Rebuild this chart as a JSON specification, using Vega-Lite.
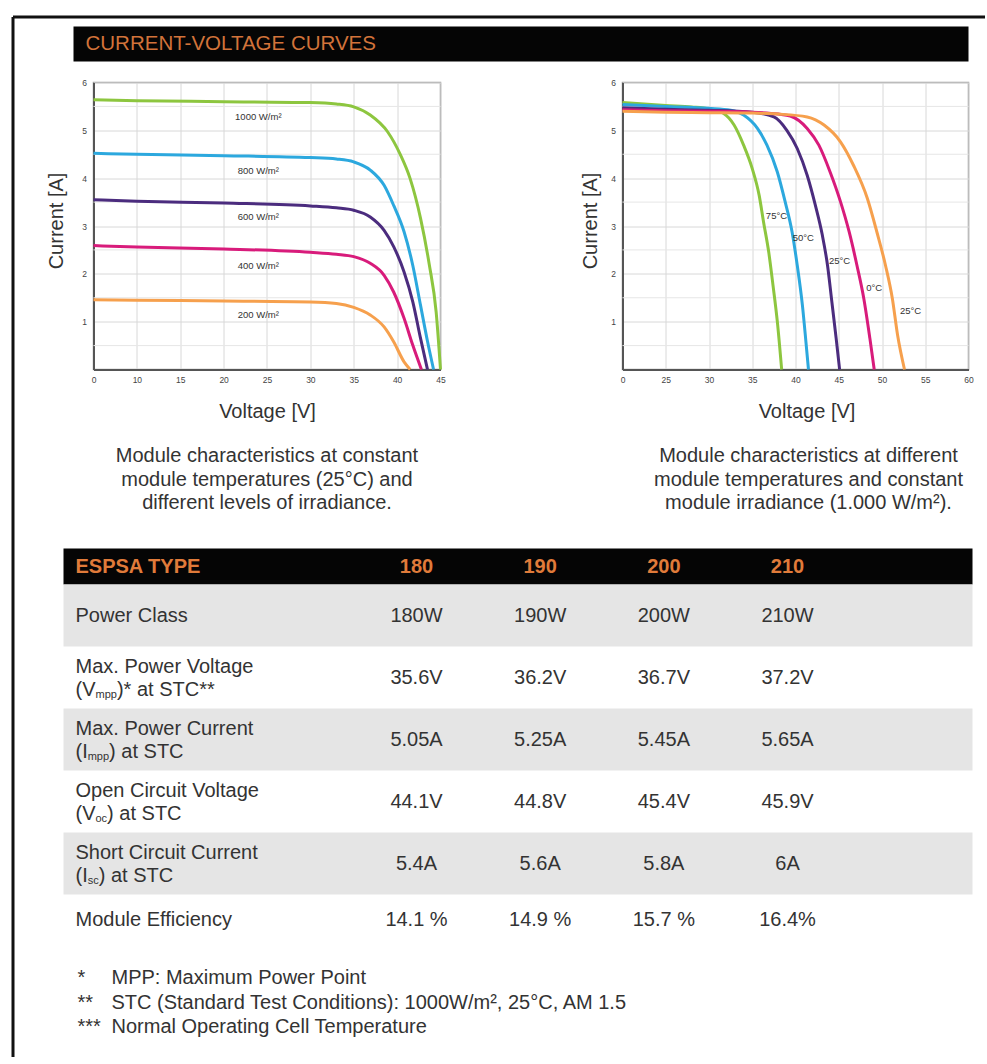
{
  "$schema": "https://vega.github.io/schema/vega-lite/v6.json",
  "background": "white",
  "padding": {"left": 12.5, "top": 16.5, "right": 0, "bottom": 0},
  "autosize": {"type": "pad"},
  "config": {
    "font": "Liberation Sans",
    "view": {"stroke": null},
    "concat": {"spacing": 0}
  },
  "datasets": {
    "irr": [
      {"curve": "1000", "v": 0, "i": 5.64}, {"curve": "1000", "v": 10, "i": 5.62}, {"curve": "1000", "v": 20, "i": 5.6}, {"curve": "1000", "v": 30, "i": 5.58}, {"curve": "1000", "v": 33, "i": 5.55}, {"curve": "1000", "v": 35, "i": 5.49}, {"curve": "1000", "v": 36.9, "i": 5.32}, {"curve": "1000", "v": 38.9, "i": 4.97}, {"curve": "1000", "v": 40.4, "i": 4.48}, {"curve": "1000", "v": 41.5, "i": 3.99}, {"curve": "1000", "v": 42.7, "i": 3.16}, {"curve": "1000", "v": 43.7, "i": 2.2}, {"curve": "1000", "v": 44.5, "i": 1.2}, {"curve": "1000", "v": 45, "i": 0},
      {"curve": "800", "v": 0, "i": 4.52}, {"curve": "800", "v": 10, "i": 4.5}, {"curve": "800", "v": 20, "i": 4.47}, {"curve": "800", "v": 30, "i": 4.43}, {"curve": "800", "v": 33, "i": 4.4}, {"curve": "800", "v": 35, "i": 4.34}, {"curve": "800", "v": 36.9, "i": 4.17}, {"curve": "800", "v": 38.5, "i": 3.85}, {"curve": "800", "v": 39.6, "i": 3.43}, {"curve": "800", "v": 40.8, "i": 2.88}, {"curve": "800", "v": 41.8, "i": 2.18}, {"curve": "800", "v": 42.7, "i": 1.34}, {"curve": "800", "v": 43.5, "i": 0.59}, {"curve": "800", "v": 44.2, "i": 0},
      {"curve": "600", "v": 0, "i": 3.55}, {"curve": "600", "v": 10, "i": 3.52}, {"curve": "600", "v": 20, "i": 3.48}, {"curve": "600", "v": 30, "i": 3.42}, {"curve": "600", "v": 33, "i": 3.38}, {"curve": "600", "v": 35, "i": 3.33}, {"curve": "600", "v": 36.9, "i": 3.19}, {"curve": "600", "v": 38.5, "i": 2.91}, {"curve": "600", "v": 39.6, "i": 2.57}, {"curve": "600", "v": 40.8, "i": 2.04}, {"curve": "600", "v": 41.8, "i": 1.42}, {"curve": "600", "v": 42.7, "i": 0.65}, {"curve": "600", "v": 43.5, "i": 0},
      {"curve": "400", "v": 0, "i": 2.59}, {"curve": "400", "v": 10, "i": 2.56}, {"curve": "400", "v": 20, "i": 2.52}, {"curve": "400", "v": 30, "i": 2.45}, {"curve": "400", "v": 33, "i": 2.41}, {"curve": "400", "v": 35, "i": 2.36}, {"curve": "400", "v": 36.9, "i": 2.22}, {"curve": "400", "v": 38.5, "i": 1.97}, {"curve": "400", "v": 39.6, "i": 1.62}, {"curve": "400", "v": 40.8, "i": 1.07}, {"curve": "400", "v": 41.8, "i": 0.51}, {"curve": "400", "v": 42.8, "i": 0},
      {"curve": "200", "v": 0, "i": 1.46}, {"curve": "200", "v": 10, "i": 1.45}, {"curve": "200", "v": 20, "i": 1.43}, {"curve": "200", "v": 30, "i": 1.41}, {"curve": "200", "v": 33, "i": 1.38}, {"curve": "200", "v": 35, "i": 1.3}, {"curve": "200", "v": 36.9, "i": 1.14}, {"curve": "200", "v": 38.5, "i": 0.89}, {"curve": "200", "v": 39.6, "i": 0.58}, {"curve": "200", "v": 40.8, "i": 0.16}, {"curve": "200", "v": 41.5, "i": 0}
    ],
    "irrLabels": [
      {"v": 24, "i": 5.27, "label": "1000 W/m²"},
      {"v": 24, "i": 4.16, "label": "800 W/m²"},
      {"v": 24, "i": 3.18, "label": "600 W/m²"},
      {"v": 24, "i": 2.17, "label": "400 W/m²"},
      {"v": 24, "i": 1.13, "label": "200 W/m²"}
    ],
    "temp": [
      {"curve": "75", "v": 0, "i": 5.58}, {"curve": "75", "v": 25, "i": 5.52}, {"curve": "75", "v": 28, "i": 5.49}, {"curve": "75", "v": 30, "i": 5.45}, {"curve": "75", "v": 31.7, "i": 5.35}, {"curve": "75", "v": 32.9, "i": 5.11}, {"curve": "75", "v": 34, "i": 4.69}, {"curve": "75", "v": 35, "i": 4.2}, {"curve": "75", "v": 35.8, "i": 3.64}, {"curve": "75", "v": 36.3, "i": 3.09}, {"curve": "75", "v": 36.9, "i": 2.46}, {"curve": "75", "v": 37.4, "i": 1.76}, {"curve": "75", "v": 37.9, "i": 1.0}, {"curve": "75", "v": 38.4, "i": 0},
      {"curve": "50", "v": 0, "i": 5.54}, {"curve": "50", "v": 25, "i": 5.5}, {"curve": "50", "v": 30, "i": 5.46}, {"curve": "50", "v": 32.5, "i": 5.42}, {"curve": "50", "v": 34, "i": 5.32}, {"curve": "50", "v": 35.6, "i": 5.04}, {"curve": "50", "v": 36.7, "i": 4.69}, {"curve": "50", "v": 37.9, "i": 4.13}, {"curve": "50", "v": 38.8, "i": 3.51}, {"curve": "50", "v": 39.6, "i": 2.88}, {"curve": "50", "v": 40.2, "i": 2.18}, {"curve": "50", "v": 40.8, "i": 1.34}, {"curve": "50", "v": 41.2, "i": 0.59}, {"curve": "50", "v": 41.5, "i": 0},
      {"curve": "25", "v": 0, "i": 5.47}, {"curve": "25", "v": 25, "i": 5.44}, {"curve": "25", "v": 30, "i": 5.42}, {"curve": "25", "v": 35, "i": 5.38}, {"curve": "25", "v": 37.5, "i": 5.28}, {"curve": "25", "v": 39, "i": 5.0}, {"curve": "25", "v": 40.2, "i": 4.62}, {"curve": "25", "v": 41.35, "i": 4.06}, {"curve": "25", "v": 42.3, "i": 3.43}, {"curve": "25", "v": 43.1, "i": 2.81}, {"curve": "25", "v": 43.7, "i": 2.18}, {"curve": "25", "v": 44.2, "i": 1.42}, {"curve": "25", "v": 44.7, "i": 0.65}, {"curve": "25", "v": 45.1, "i": 0},
      {"curve": "0", "v": 0, "i": 5.43}, {"curve": "0", "v": 25, "i": 5.41}, {"curve": "0", "v": 30, "i": 5.4}, {"curve": "0", "v": 35, "i": 5.38}, {"curve": "0", "v": 38, "i": 5.34}, {"curve": "0", "v": 39.4, "i": 5.3}, {"curve": "0", "v": 41.35, "i": 5.04}, {"curve": "0", "v": 42.7, "i": 4.69}, {"curve": "0", "v": 44, "i": 4.13}, {"curve": "0", "v": 45.2, "i": 3.51}, {"curve": "0", "v": 46.2, "i": 2.88}, {"curve": "0", "v": 47.1, "i": 2.18}, {"curve": "0", "v": 47.9, "i": 1.48}, {"curve": "0", "v": 48.6, "i": 0.65}, {"curve": "0", "v": 49.1, "i": 0},
      {"curve": "-25", "v": 0, "i": 5.4}, {"curve": "-25", "v": 25, "i": 5.38}, {"curve": "-25", "v": 30, "i": 5.37}, {"curve": "-25", "v": 35, "i": 5.36}, {"curve": "-25", "v": 38, "i": 5.34}, {"curve": "-25", "v": 41.35, "i": 5.28}, {"curve": "-25", "v": 43.3, "i": 5.11}, {"curve": "-25", "v": 45.2, "i": 4.76}, {"curve": "-25", "v": 46.7, "i": 4.27}, {"curve": "-25", "v": 48.3, "i": 3.58}, {"curve": "-25", "v": 49.4, "i": 2.88}, {"curve": "-25", "v": 50.4, "i": 2.18}, {"curve": "-25", "v": 51.2, "i": 1.48}, {"curve": "-25", "v": 51.8, "i": 0.72}, {"curve": "-25", "v": 52.6, "i": 0}
    ],
    "tempLabels": [
      {"v": 37.8, "i": 3.2, "label": "75°C"},
      {"v": 40.9, "i": 2.74, "label": "50°C"},
      {"v": 45.1, "i": 2.26, "label": "25°C"},
      {"v": 49.1, "i": 1.71, "label": "0°C"},
      {"v": 53.3, "i": 1.23, "label": "25°C"}
    ],
    "halfGrid": [
      {"g": 0.5}, {"g": 1.5}, {"g": 2.5}, {"g": 3.5}, {"g": 4.5}, {"g": 5.5}
    ],
    "thead": [
      {"col": 0, "text": "ESPSA TYPE"},
      {"col": 1, "text": "180"},
      {"col": 2, "text": "190"},
      {"col": 3, "text": "200"},
      {"col": 4, "text": "210"}
    ],
    "rows": [
      {"row": "pc", "shade": "g"}, {"row": "mpv", "shade": "w"}, {"row": "mpc", "shade": "g"},
      {"row": "ocv", "shade": "w"}, {"row": "scc", "shade": "g"}, {"row": "eff", "shade": "w"}
    ],
    "cells": [
      {"row": "pc", "col": 1, "value": "180W"}, {"row": "pc", "col": 2, "value": "190W"}, {"row": "pc", "col": 3, "value": "200W"}, {"row": "pc", "col": 4, "value": "210W"},
      {"row": "mpv", "col": 1, "value": "35.6V"}, {"row": "mpv", "col": 2, "value": "36.2V"}, {"row": "mpv", "col": 3, "value": "36.7V"}, {"row": "mpv", "col": 4, "value": "37.2V"},
      {"row": "mpc", "col": 1, "value": "5.05A"}, {"row": "mpc", "col": 2, "value": "5.25A"}, {"row": "mpc", "col": 3, "value": "5.45A"}, {"row": "mpc", "col": 4, "value": "5.65A"},
      {"row": "ocv", "col": 1, "value": "44.1V"}, {"row": "ocv", "col": 2, "value": "44.8V"}, {"row": "ocv", "col": 3, "value": "45.4V"}, {"row": "ocv", "col": 4, "value": "45.9V"},
      {"row": "scc", "col": 1, "value": "5.4A"}, {"row": "scc", "col": 2, "value": "5.6A"}, {"row": "scc", "col": 3, "value": "5.8A"}, {"row": "scc", "col": 4, "value": "6A"},
      {"row": "eff", "col": 1, "value": "14.1 %"}, {"row": "eff", "col": 2, "value": "14.9 %"}, {"row": "eff", "col": 3, "value": "15.7 %"}, {"row": "eff", "col": 4, "value": "16.4%"}
    ],
    "labels": [
      {"row": "pc", "lines": 1, "l1": "Power Class"},
      {"row": "mpv", "lines": 2, "l1": "Max. Power Voltage", "a": "(V", "s": "mpp", "b": ")* at STC**"},
      {"row": "mpc", "lines": 2, "l1": "Max. Power Current", "a": "(I", "s": "mpp", "b": ") at STC"},
      {"row": "ocv", "lines": 2, "l1": "Open Circuit Voltage", "a": "(V", "s": "oc", "b": ") at STC"},
      {"row": "scc", "lines": 2, "l1": "Short Circuit Current", "a": "(I", "s": "sc", "b": ") at STC"},
      {"row": "eff", "lines": 1, "l1": "Module Efficiency"}
    ],
    "notes": [
      {"row": 1, "mark": "*", "text": "MPP: Maximum Power Point"},
      {"row": 2, "mark": "**", "text": "STC (Standard Test Conditions): 1000W/m², 25°C, AM 1.5"},
      {"row": 3, "mark": "***", "text": "Normal Operating Cell Temperature"}
    ]
  },
  "spacing": 0,
  "bounds": "flush",
  "resolve": {"scale": {"color": "independent"}},
  "vconcat": [
    {
      "spacing": 0,
      "bounds": "flush",
      "hconcat": [
        {
          "width": 900,
          "height": 1000,
          "view": {"stroke": null, "fill": null},
          "data": {"values": []},
          "mark": "point",
          "encoding": {
            "x": {"datum": 0, "type": "quantitative", "scale": {"domain": [0, 1], "range": [0, 972]}, "axis": {"orient": "top", "position": -51, "domain": true, "domainColor": "#111111", "domainWidth": 3, "labels": false, "ticks": false, "grid": false, "title": null}},
            "y": {"datum": 0, "type": "quantitative", "scale": {"domain": [0, 1], "range": [1040, 0]}, "axis": {"orient": "left", "offset": 51, "domain": true, "domainColor": "#111111", "domainWidth": 3, "labels": false, "ticks": false, "grid": false, "title": null}}
          }
        }
      ]
    },
    {"width": 1, "height": 10, "data": {"values": []}, "mark": "point"},
    {
      "spacing": 0,
      "bounds": "flush",
      "hconcat": [
        {"width": 10, "height": 35, "data": {"values": []}, "mark": "point"},
        {
          "width": 895,
          "height": 35,
          "view": {"fill": "#050505", "stroke": null},
          "data": {"name": "thead"},
          "transform": [{"filter": "datum.col == 0"}],
          "mark": {"type": "text", "align": "left", "baseline": "middle", "fontSize": 20.5, "color": "#d2733a", "text": "CURRENT-VOLTAGE CURVES"},
          "encoding": {
            "x": {"field": "col", "type": "quantitative", "scale": {"domain": [0, 1], "range": [12, 895]}, "axis": null}
          }
        }
      ]
    },
    {"width": 1, "height": 56, "data": {"values": []}, "mark": "point"},
    {
      "spacing": 0,
      "bounds": "flush",
      "resolve": {"scale": {"color": "independent"}},
      "hconcat": [
        {"width": 30, "height": 1, "data": {"values": []}, "mark": "point"},
        {
          "width": 347,
          "height": 287,
          "view": {"stroke": "#a0a0a0", "strokeWidth": 1.5},
          "title": {"text": ["Module characteristics at constant", "module temperatures (25°C) and", "different levels of irradiance."], "orient": "bottom", "anchor": "middle", "fontSize": 20, "fontWeight": "normal", "color": "#333333", "lineHeight": 23.5, "offset": 25},
          "layer": [
            {
              "data": {"name": "halfGrid"},
              "mark": {"type": "rule", "color": "#e6e6e6", "strokeWidth": 1},
              "encoding": {
                "y": {"field": "g", "type": "quantitative"}
              }
            },
            {
              "data": {"name": "irr"},
              "mark": {"type": "line", "interpolate": "monotone", "strokeWidth": 3},
              "encoding": {
                "x": {"field": "v", "type": "quantitative", "scale": {"domain": [0, 10, 45], "range": [0, 43.375, 347], "nice": false, "zero": false},
                  "axis": {"values": [0, 10, 15, 20, 25, 30, 35, 40, 45], "title": "Voltage [V]", "titleFontSize": 20, "titleFontWeight": "normal", "titleColor": "#333333", "titlePadding": 17, "labelFontSize": 8.5, "labelColor": "#444444", "labelPadding": 6, "labelFlush": false, "labelOverlap": false, "ticks": false, "domainColor": "#555555", "domainWidth": 2, "grid": true, "gridColor": "#d8d8d8"}},
                "y": {"field": "i", "type": "quantitative", "scale": {"domain": [0, 6], "nice": false},
                  "axis": {"values": [1, 2, 3, 4, 5, 6], "format": "d", "title": "Current [A]", "titleY": 138, "titleFontSize": 20, "titleFontWeight": "normal", "titleColor": "#333333", "titlePadding": 15, "labelFontSize": 8.5, "labelColor": "#444444", "labelPadding": 7, "labelFlush": false, "labelOverlap": false, "labelBound": false, "ticks": false, "domainColor": "#555555", "domainWidth": 2, "grid": true, "gridColor": "#d8d8d8"}},
                "color": {"field": "curve", "type": "nominal", "scale": {"domain": ["1000", "800", "600", "400", "200"], "range": ["#8dc63f", "#2ca8de", "#4b2c7e", "#d81b7b", "#f6a04d"]}, "legend": null}
              }
            },
            {
              "data": {"name": "irrLabels"},
              "mark": {"type": "text", "fontSize": 9.5, "color": "#333333"},
              "encoding": {
                "x": {"field": "v", "type": "quantitative"},
                "y": {"field": "i", "type": "quantitative"},
                "text": {"field": "label"}
              }
            }
          ]
        },
        {"width": 182, "height": 1, "data": {"values": []}, "mark": "point"},
        {
          "width": 346,
          "height": 287,
          "view": {"stroke": "#a0a0a0", "strokeWidth": 1.5},
          "title": {"text": ["Module characteristics at different", "module temperatures and constant", "module irradiance (1.000 W/m²)."], "orient": "bottom", "anchor": "middle", "fontSize": 20, "fontWeight": "normal", "color": "#333333", "lineHeight": 23.5, "offset": 25, "dx": 13},
          "layer": [
            {
              "data": {"name": "halfGrid"},
              "mark": {"type": "rule", "color": "#e6e6e6", "strokeWidth": 1},
              "encoding": {
                "y": {"field": "g", "type": "quantitative"}
              }
            },
            {
              "data": {"name": "temp"},
              "mark": {"type": "line", "interpolate": "monotone", "strokeWidth": 3},
              "encoding": {
                "x": {"field": "v", "type": "quantitative", "scale": {"domain": [0, 25, 60], "range": [0, 43.25, 346], "nice": false, "zero": false},
                  "axis": {"values": [0, 25, 30, 35, 40, 45, 50, 55, 60], "title": "Voltage [V]", "titleX": 184, "titleFontSize": 20, "titleFontWeight": "normal", "titleColor": "#333333", "titlePadding": 17, "labelFontSize": 8.5, "labelColor": "#444444", "labelPadding": 6, "labelFlush": false, "labelOverlap": false, "ticks": false, "domainColor": "#555555", "domainWidth": 2, "grid": true, "gridColor": "#d8d8d8"}},
                "y": {"field": "i", "type": "quantitative", "scale": {"domain": [0, 6], "nice": false},
                  "axis": {"values": [1, 2, 3, 4, 5, 6], "format": "d", "title": "Current [A]", "titleY": 138, "titleFontSize": 20, "titleFontWeight": "normal", "titleColor": "#333333", "titlePadding": 10, "labelFontSize": 8.5, "labelColor": "#444444", "labelPadding": 7, "labelFlush": false, "labelOverlap": false, "labelBound": false, "ticks": false, "domainColor": "#555555", "domainWidth": 2, "grid": true, "gridColor": "#d8d8d8"}},
                "color": {"field": "curve", "type": "nominal", "scale": {"domain": ["75", "50", "25", "0", "-25"], "range": ["#8dc63f", "#2ca8de", "#4b2c7e", "#d81b7b", "#f6a04d"]}, "legend": null}
              }
            },
            {
              "data": {"name": "tempLabels"},
              "mark": {"type": "text", "fontSize": 9.5, "color": "#333333"},
              "encoding": {
                "x": {"field": "v", "type": "quantitative"},
                "y": {"field": "i", "type": "quantitative"},
                "text": {"field": "label"}
              }
            }
          ]
        }
      ]
    },
    {"width": 1, "height": 466, "data": {"values": []}, "mark": "point"},
    {
      "width": 909,
      "height": 36,
      "view": {"fill": "#050505", "stroke": null},
      "data": {"name": "thead"},
      "layer": [
        {
          "transform": [{"filter": "datum.col == 0"}],
          "mark": {"type": "text", "align": "left", "baseline": "middle", "fontSize": 20, "fontWeight": "bold", "color": "#e07b3a"},
          "encoding": {
            "x": {"field": "col", "type": "quantitative", "scale": {"domain": [0, 1, 4], "range": [12, 353, 724], "nice": false, "zero": false}, "axis": null},
            "text": {"field": "text"}
          }
        },
        {
          "transform": [{"filter": "datum.col > 0"}],
          "mark": {"type": "text", "align": "center", "baseline": "middle", "fontSize": 20, "fontWeight": "bold", "color": "#e07b3a"},
          "encoding": {
            "x": {"field": "col", "type": "quantitative", "scale": {"domain": [0, 1, 4], "range": [12, 353, 724], "nice": false, "zero": false}, "axis": null},
            "text": {"field": "text"}
          }
        }
      ]
    },
    {
      "width": 909,
      "height": 372,
      "layer": [
        {
          "data": {"name": "rows"},
          "transform": [{"filter": "datum.shade == 'g'"}],
          "mark": {"type": "rect", "color": "#e5e5e5"},
          "encoding": {
            "y": {"field": "row", "type": "nominal", "scale": {"domain": ["pc", "mpv", "mpc", "ocv", "scc", "eff"], "paddingInner": 0, "paddingOuter": 0}, "axis": null}
          }
        },
        {
          "data": {"name": "cells"},
          "transform": [{"filter": "datum.row != 'eff'"}],
          "mark": {"type": "text", "align": "center", "baseline": "middle", "fontSize": 20, "color": "#333333"},
          "encoding": {
            "x": {"field": "col", "type": "quantitative", "scale": {"domain": [0, 1, 4], "range": [12, 353, 724], "nice": false, "zero": false}, "axis": null},
            "y": {"field": "row", "type": "nominal", "scale": {"domain": ["pc", "mpv", "mpc", "ocv", "scc", "eff"], "paddingInner": 0, "paddingOuter": 0}, "axis": null},
            "text": {"field": "value"}
          }
        },
        {
          "data": {"name": "cells"},
          "transform": [{"filter": "datum.row == 'eff'"}],
          "mark": {"type": "text", "align": "center", "baseline": "middle", "fontSize": 20, "color": "#333333", "dy": -6},
          "encoding": {
            "x": {"field": "col", "type": "quantitative"},
            "y": {"field": "row", "type": "nominal"},
            "text": {"field": "value"}
          }
        },
        {
          "data": {"name": "labels"},
          "transform": [{"filter": "datum.row == 'pc'"}],
          "mark": {"type": "text", "align": "left", "baseline": "middle", "fontSize": 20, "color": "#333333"},
          "encoding": {
            "x": {"datum": 0, "type": "quantitative"},
            "y": {"field": "row", "type": "nominal"},
            "text": {"field": "l1"}
          }
        },
        {
          "data": {"name": "labels"},
          "transform": [{"filter": "datum.row == 'eff'"}],
          "mark": {"type": "text", "align": "left", "baseline": "middle", "fontSize": 20, "color": "#333333", "dy": -6},
          "encoding": {
            "x": {"datum": 0, "type": "quantitative"},
            "y": {"field": "row", "type": "nominal"},
            "text": {"field": "l1"}
          }
        },
        {
          "data": {"name": "labels"},
          "transform": [{"filter": "datum.lines == 2"}],
          "mark": {"type": "text", "align": "left", "baseline": "middle", "fontSize": 20, "color": "#333333", "dy": -11},
          "encoding": {
            "x": {"datum": 0, "type": "quantitative"},
            "y": {"field": "row", "type": "nominal"},
            "text": {"field": "l1"}
          }
        },
        {
          "data": {"name": "labels"},
          "transform": [{"filter": "datum.lines == 2"}],
          "mark": {"type": "text", "align": "left", "baseline": "middle", "fontSize": 20, "color": "#333333", "dy": 12},
          "encoding": {
            "x": {"datum": 0, "type": "quantitative"},
            "y": {"field": "row", "type": "nominal"},
            "text": {"field": "a"}
          }
        },
        {
          "data": {"name": "labels"},
          "transform": [{"filter": "datum.a == '(V'"}],
          "mark": {"type": "text", "align": "left", "baseline": "middle", "fontSize": 11, "color": "#333333", "dx": 20, "dy": 17},
          "encoding": {
            "x": {"datum": 0, "type": "quantitative"},
            "y": {"field": "row", "type": "nominal"},
            "text": {"field": "s"}
          }
        },
        {
          "data": {"name": "labels"},
          "transform": [{"filter": "datum.a == '(I'"}],
          "mark": {"type": "text", "align": "left", "baseline": "middle", "fontSize": 11, "color": "#333333", "dx": 12.2, "dy": 17},
          "encoding": {
            "x": {"datum": 0, "type": "quantitative"},
            "y": {"field": "row", "type": "nominal"},
            "text": {"field": "s"}
          }
        },
        {
          "data": {"name": "labels"},
          "transform": [{"filter": "datum.row == 'mpv'"}],
          "mark": {"type": "text", "align": "left", "baseline": "middle", "fontSize": 20, "color": "#333333", "dx": 41.4, "dy": 12},
          "encoding": {
            "x": {"datum": 0, "type": "quantitative"},
            "y": {"field": "row", "type": "nominal"},
            "text": {"field": "b"}
          }
        },
        {
          "data": {"name": "labels"},
          "transform": [{"filter": "datum.row == 'mpc'"}],
          "mark": {"type": "text", "align": "left", "baseline": "middle", "fontSize": 20, "color": "#333333", "dx": 33.6, "dy": 12},
          "encoding": {
            "x": {"datum": 0, "type": "quantitative"},
            "y": {"field": "row", "type": "nominal"},
            "text": {"field": "b"}
          }
        },
        {
          "data": {"name": "labels"},
          "transform": [{"filter": "datum.row == 'ocv'"}],
          "mark": {"type": "text", "align": "left", "baseline": "middle", "fontSize": 20, "color": "#333333", "dx": 31.6, "dy": 12},
          "encoding": {
            "x": {"datum": 0, "type": "quantitative"},
            "y": {"field": "row", "type": "nominal"},
            "text": {"field": "b"}
          }
        },
        {
          "data": {"name": "labels"},
          "transform": [{"filter": "datum.row == 'scc'"}],
          "mark": {"type": "text", "align": "left", "baseline": "middle", "fontSize": 20, "color": "#333333", "dx": 23.2, "dy": 12},
          "encoding": {
            "x": {"datum": 0, "type": "quantitative"},
            "y": {"field": "row", "type": "nominal"},
            "text": {"field": "b"}
          }
        }
      ]
    },
    {"width": 1, "height": 9, "data": {"values": []}, "mark": "point"},
    {
      "width": 700,
      "height": 74,
      "data": {"name": "notes"},
      "layer": [
        {
          "mark": {"type": "text", "align": "left", "baseline": "middle", "fontSize": 20, "color": "#333333"},
          "encoding": {
            "x": {"datum": 0, "type": "quantitative", "scale": {"domain": [0, 1], "range": [14, 48]}, "axis": null},
            "y": {"field": "row", "type": "ordinal", "scale": {"paddingInner": 0, "paddingOuter": 0}, "axis": null},
            "text": {"field": "mark"}
          }
        },
        {
          "mark": {"type": "text", "align": "left", "baseline": "middle", "fontSize": 20, "color": "#333333"},
          "encoding": {
            "x": {"datum": 1, "type": "quantitative"},
            "y": {"field": "row", "type": "ordinal"},
            "text": {"field": "text"}
          }
        }
      ]
    }
  ]
}
